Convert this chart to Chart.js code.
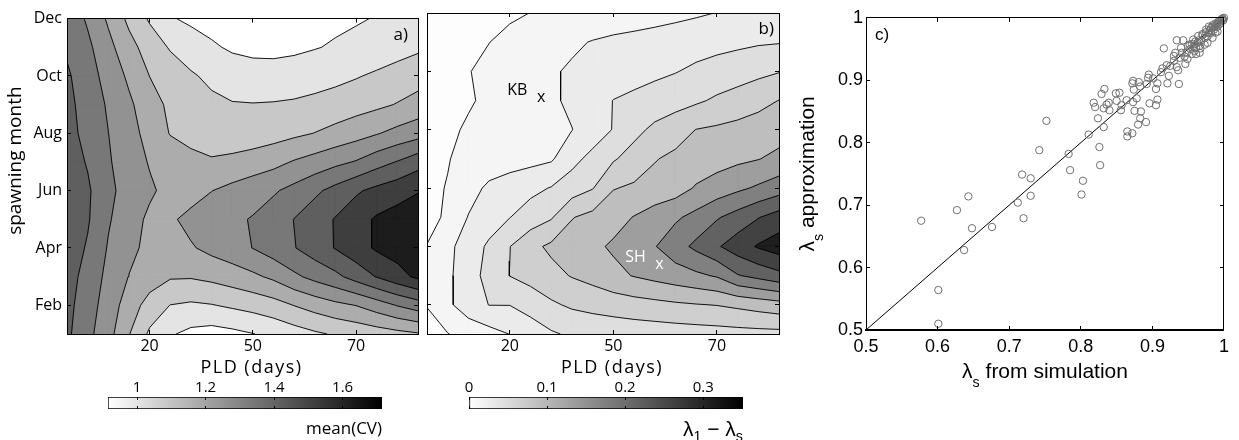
<!DOCTYPE html>
<html lang="en">
<head>
<meta charset="UTF-8" />
<title>Spawning month vs PLD</title>
<script src="https://cdn.jsdelivr.net/npm/chart.js"></script>
<style>
  body { margin: 0; background: #fff; }
  #figure { position: relative; width: 1239px; height: 440px; overflow: hidden; }
  #figure canvas { position: absolute; }
</style>
</head>
<body>
<div id="figure">
  <canvas id="cvChart" width="430" height="380" style="left:0px;top:0px"></canvas>
  <canvas id="gapChart" width="370" height="380" style="left:420px;top:0px"></canvas>
  <canvas id="cvBar" width="310" height="70" style="left:90px;top:370px"></canvas>
  <canvas id="gapBar" width="310" height="70" style="left:451px;top:370px"></canvas>
  <canvas id="lambdaChart" width="459" height="400" style="left:780px;top:0px"></canvas>
</div>
<script>
// axes of panels a) and b): 18 PLD steps (columns) by month (rows, Dec first)
const monthTicks = [2, 4, 6, 8, 10, 12];
const monthLabels = ['Feb', 'Apr', 'Jun', 'Aug', 'Oct', 'Dec'];
const pldTickCols = [4, 9, 14];
const pldTickLabels = ['20', '50', '70'];

// a) mean(CV), rows Dec -> Jan
const meanCV = [
  [1.47, 1.386, 1.285, 1.177, 1.088, 1.009, 0.98, 0.96, 0.945, 0.935, 0.935, 0.945, 0.96, 0.98, 0.993, 1.004, 1.015, 1.03],
  [1.485, 1.422, 1.329, 1.235, 1.155, 1.091, 1.053, 1.015, 0.985, 0.97, 0.97, 0.98, 0.995, 1.01, 1.02, 1.04, 1.06, 1.085],
  [1.515, 1.441, 1.365, 1.282, 1.199, 1.155, 1.111, 1.08, 1.06, 1.05, 1.045, 1.05, 1.06, 1.075, 1.093, 1.115, 1.14, 1.155],
  [1.53, 1.455, 1.389, 1.318, 1.242, 1.18, 1.15, 1.12, 1.105, 1.103, 1.106, 1.112, 1.125, 1.14, 1.16, 1.18, 1.205, 1.24],
  [1.54, 1.465, 1.401, 1.336, 1.267, 1.195, 1.16, 1.145, 1.14, 1.145, 1.16, 1.18, 1.202, 1.23, 1.26, 1.293, 1.33, 1.36],
  [1.55, 1.492, 1.41, 1.35, 1.293, 1.26, 1.235, 1.212, 1.225, 1.245, 1.27, 1.308, 1.34, 1.375, 1.407, 1.46, 1.505, 1.56],
  [1.56, 1.515, 1.422, 1.363, 1.315, 1.27, 1.255, 1.298, 1.328, 1.358, 1.388, 1.43, 1.48, 1.532, 1.586, 1.627, 1.66, 1.695],
  [1.56, 1.51, 1.41, 1.342, 1.282, 1.284, 1.33, 1.355, 1.38, 1.407, 1.45, 1.502, 1.555, 1.606, 1.66, 1.713, 1.74, 1.75],
  [1.555, 1.49, 1.392, 1.329, 1.27, 1.26, 1.29, 1.328, 1.36, 1.402, 1.45, 1.495, 1.55, 1.605, 1.66, 1.713, 1.74, 1.75],
  [1.54, 1.465, 1.373, 1.297, 1.25, 1.21, 1.208, 1.225, 1.25, 1.28, 1.32, 1.38, 1.43, 1.475, 1.54, 1.605, 1.665, 1.72],
  [1.53, 1.444, 1.355, 1.252, 1.16, 1.098, 1.085, 1.095, 1.115, 1.135, 1.16, 1.202, 1.24, 1.275, 1.302, 1.35, 1.405, 1.45],
  [1.52, 1.427, 1.336, 1.205, 1.083, 1.01, 0.975, 0.96, 0.975, 0.997, 1.025, 1.055, 1.085, 1.11, 1.13, 1.15, 1.17, 1.19]
];
const cvLevels = [1.0, 1.1, 1.2, 1.3, 1.4, 1.5, 1.6, 1.7];
const cvBarRange = [0.915, 1.715];
const cvBarTicks = [1, 1.2, 1.4, 1.6];
const cvBarLabels = ['1', '1.2', '1.4', '1.6'];

// b) lambda_1 - lambda_s, rows Dec -> Jan
const lambdaGap = [
  [0.0144, 0.0176, 0.0208, 0.024, 0.0282, 0.0323, 0.0352, 0.0384, 0.0416, 0.0448, 0.048, 0.0518, 0.056, 0.0602, 0.0646, 0.0704, 0.0768, 0.0832],
  [0.0176, 0.0208, 0.0256, 0.0317, 0.0384, 0.0454, 0.0522, 0.0592, 0.0656, 0.0704, 0.0736, 0.0768, 0.08, 0.0832, 0.0864, 0.0896, 0.0928, 0.0944],
  [0.0192, 0.024, 0.031, 0.0384, 0.0448, 0.0528, 0.0608, 0.0678, 0.0736, 0.079, 0.0848, 0.0896, 0.0947, 0.1018, 0.1082, 0.1136, 0.12, 0.1264],
  [0.0208, 0.0256, 0.0294, 0.0368, 0.0432, 0.0512, 0.0592, 0.0698, 0.0832, 0.0966, 0.1024, 0.1088, 0.1152, 0.1232, 0.1328, 0.1408, 0.1504, 0.1606],
  [0.0224, 0.0272, 0.0352, 0.0416, 0.048, 0.0528, 0.0576, 0.0634, 0.0784, 0.0976, 0.119, 0.135, 0.1472, 0.1606, 0.1648, 0.1696, 0.1744, 0.1792],
  [0.0256, 0.031, 0.0384, 0.0448, 0.0496, 0.0544, 0.0602, 0.0864, 0.1056, 0.1248, 0.1408, 0.1584, 0.1664, 0.1728, 0.1792, 0.1856, 0.191, 0.1997],
  [0.0272, 0.033, 0.0512, 0.0704, 0.08, 0.088, 0.0976, 0.112, 0.1264, 0.1584, 0.1648, 0.1696, 0.1776, 0.1952, 0.2064, 0.2176, 0.2288, 0.241],
  [0.0256, 0.0352, 0.0656, 0.08, 0.0954, 0.1104, 0.1248, 0.1584, 0.1696, 0.1808, 0.1933, 0.208, 0.2192, 0.2336, 0.2528, 0.2688, 0.2864, 0.3018],
  [0.0326, 0.0563, 0.0787, 0.1014, 0.1274, 0.1514, 0.1661, 0.1757, 0.1856, 0.1962, 0.2093, 0.2224, 0.2426, 0.2634, 0.2842, 0.3043, 0.3232, 0.336],
  [0.0432, 0.0576, 0.0826, 0.1062, 0.1286, 0.1392, 0.1504, 0.1619, 0.1712, 0.184, 0.1936, 0.2016, 0.2096, 0.2176, 0.2272, 0.2538, 0.2656, 0.2784],
  [0.033, 0.0576, 0.0816, 0.0966, 0.0966, 0.1088, 0.1232, 0.1328, 0.1376, 0.1424, 0.1472, 0.151, 0.1552, 0.1584, 0.161, 0.1664, 0.1728, 0.1792],
  [0.0224, 0.031, 0.0432, 0.0528, 0.0646, 0.0784, 0.0922, 0.1008, 0.1056, 0.1072, 0.1088, 0.1104, 0.112, 0.1136, 0.1152, 0.1168, 0.1178, 0.1184]
];
const gapLevels = [0.032, 0.064, 0.096, 0.128, 0.16, 0.192, 0.224, 0.256, 0.288, 0.32];
const gapBarRange = [0, 0.351];
const gapBarTicks = [0, 0.1, 0.2, 0.3];
const gapBarLabels = ['0', '0.1', '0.2', '0.3'];

// sites marked in b)
const siteNames = ['KB', 'SH'];
const sitePldCol = [5.52, 11.23];
const siteMonth = [9.09, 3.37];

// c) lambda_s: simulation vs approximation
const simLambda = [0.577, 0.627, 0.648, 0.676, 0.637, 0.601, 0.601, 0.712, 0.72, 0.643, 0.718, 0.73, 0.73, 0.742, 0.752, 0.783, 0.785, 0.803, 0.801, 0.811,
  0.826, 0.827, 0.818, 0.82, 0.824, 0.829, 0.833, 0.832, 0.832, 0.836, 0.84, 0.839, 0.849, 0.854, 0.85, 0.857, 0.856, 0.864, 0.865, 0.865,
  0.872, 0.872, 0.873, 0.874, 0.873, 0.875, 0.878, 0.881, 0.883, 0.88, 0.883, 0.884, 0.891, 0.892, 0.894, 0.895, 0.896, 0.901, 0.905, 0.907,
  0.905, 0.907, 0.912, 0.914, 0.916, 0.921, 0.923, 0.92, 0.925, 0.93, 0.932, 0.934, 0.937, 0.936, 0.934, 0.938, 0.94, 0.943, 0.946, 0.948,
  0.949, 0.95, 0.952, 0.955, 0.957, 0.959, 0.961, 0.964, 0.966, 0.968, 0.97, 0.973, 0.975, 0.977, 0.979, 0.982, 0.984, 0.986, 0.988, 0.991,
  0.993, 0.995, 0.997, 0.999, 0.984, 0.973, 0.961, 0.966, 0.977, 0.988, 0.991, 0.967, 0.941, 0.93, 0.96, 0.97, 0.98, 0.985, 0.99, 0.992,
  0.995, 0.997, 0.998, 1.0, 0.975, 0.965, 0.955, 0.987, 0.993, 0.979, 0.982, 0.945, 0.953, 0.958, 0.963];
const approxLambda = [0.675, 0.692, 0.663, 0.665, 0.628, 0.564, 0.51, 0.704, 0.679, 0.714, 0.749, 0.743, 0.715, 0.788, 0.835, 0.782, 0.756, 0.739, 0.717, 0.813,
  0.793, 0.764, 0.864, 0.857, 0.839, 0.878, 0.886, 0.855, 0.825, 0.861, 0.852, 0.864, 0.879, 0.88, 0.867, 0.86, 0.852, 0.868, 0.818, 0.81,
  0.815, 0.895, 0.899, 0.885, 0.865, 0.851, 0.871, 0.897, 0.89, 0.829, 0.839, 0.85, 0.833, 0.894, 0.904, 0.909, 0.863, 0.903, 0.86, 0.869,
  0.886, 0.895, 0.913, 0.919, 0.951, 0.895, 0.907, 0.924, 0.923, 0.931, 0.944, 0.964, 0.894, 0.916, 0.921, 0.936, 0.952, 0.964, 0.926, 0.944,
  0.934, 0.955, 0.957, 0.942, 0.965, 0.947, 0.952, 0.971, 0.955, 0.963, 0.974, 0.968, 0.981, 0.97, 0.986, 0.976, 0.988, 0.981, 0.991, 0.986,
  0.995, 0.991, 0.998, 0.996, 0.968, 0.957, 0.942, 0.944, 0.96, 0.976, 0.978, 0.951, 0.944, 0.939, 0.962, 0.972, 0.98, 0.986, 0.99, 0.993,
  0.996, 0.997, 0.999, 1.0, 0.977, 0.964, 0.958, 0.985, 0.99, 0.975, 0.984, 0.938, 0.95, 0.955, 0.96];
const identityLine = [0.5, 1];
const lambdaTicks = [0.5, 0.6, 0.7, 0.8, 0.9, 1];
const lambdaTickLabels = ['0.5', '0.6', '0.7', '0.8', '0.9', '1'];

// band greys (lowest band first)
const cvShades = [255, 228, 200, 172, 146, 120, 95, 62, 28];
const gapShades = [253, 245, 235, 222, 207, 190, 158, 128, 98, 66, 30];

const OPEN = "'Open Sans', sans-serif";
const SANS = "'Liberation Sans', Arial, sans-serif";
Chart.defaults.font.family = OPEN;
Chart.defaults.color = '#000';

const gray = g => `rgb(${g},${g},${g})`;
const txt = (t, sub = false) => ({ t, sub });

// text with optional subscripts, drawn at a baseline point
function richText(ctx, parts, x, y, o) {
  ctx.save();
  ctx.translate(x, y);
  if (o.rotate) ctx.rotate(o.rotate);
  ctx.fillStyle = o.color || '#000';
  ctx.textBaseline = 'alphabetic';
  if (o.spacing) ctx.letterSpacing = o.spacing;
  const sizes = parts.map(p => (p.sub ? o.size * 0.68 : o.size));
  const widths = parts.map((p, i) => {
    ctx.font = `${sizes[i]}px ${o.family}`;
    return ctx.measureText(p.t).width;
  });
  const total = widths.reduce((a, b) => a + b, 0);
  let cx = o.align === 'right' ? -total : o.align === 'center' ? -total / 2 : 0;
  parts.forEach((p, i) => {
    ctx.font = `${sizes[i]}px ${o.family}`;
    ctx.fillText(p.t, cx, p.sub ? o.size * (o.drop || 0.3) : 0);
    cx += widths[i];
  });
  ctx.restore();
}

// filled contour pieces per cell (linear interpolation on cell edges)
const GAP = { x: null, y: null };
function contourLayers(grid, levels) {
  const rows = grid.length, cols = grid[0].length;
  const monthOf = r => rows - r;
  const fills = [], lines = [];
  const rect = (pts, c0, c1, yb, yt) => pts.push({ x: c0, y: yb }, { x: c1, y: yb }, { x: c1, y: yt }, { x: c0, y: yt }, { x: c0, y: yb }, GAP);
  levels.forEach(level => {
    const pts = [];
    for (let r = 0; r < rows - 1; r++) {
      let run = -1;
      for (let c = 0; c < cols - 1; c++) {
        const k = [
          [c, monthOf(r + 1), grid[r + 1][c]],
          [c + 1, monthOf(r + 1), grid[r + 1][c + 1]],
          [c + 1, monthOf(r), grid[r][c + 1]],
          [c, monthOf(r), grid[r][c]]
        ];
        const inside = k.map(p => p[2] >= level);
        if (inside.every(Boolean)) { if (run < 0) run = c; continue; }
        if (run >= 0) { rect(pts, run, c, monthOf(r + 1), monthOf(r)); run = -1; }
        if (!inside.some(Boolean)) continue;
        const poly = [], cross = [];
        for (let i = 0; i < 4; i++) {
          const a = k[i], b = k[(i + 1) % 4];
          if (inside[i]) poly.push({ x: a[0], y: a[1] });
          if (inside[i] !== inside[(i + 1) % 4]) {
            const t = (level - a[2]) / (b[2] - a[2]);
            const p = { x: a[0] + t * (b[0] - a[0]), y: a[1] + t * (b[1] - a[1]) };
            poly.push(p);
            cross.push({ p, exit: inside[i] });
          }
        }
        pts.push(...poly, poly[0], GAP);
        cross.forEach((q, i) => {
          if (q.exit) lines.push(q.p, cross[(i + 1) % cross.length].p, GAP);
        });
      }
      if (run >= 0) rect(pts, run, cols - 1, monthOf(r + 1), monthOf(r));
    }
    fills.push(pts);
  });
  return { fills, lines };
}

function contourDatasets(grid, levels, shades) {
  const { fills, lines } = contourLayers(grid, [-Infinity, ...levels]);
  const sets = fills.map((pts, k) => ({
    data: pts, showLine: true, fill: 'shape', tension: 0,
    backgroundColor: gray(shades[k]), borderColor: gray(shades[k]), borderWidth: 1,
    borderJoinStyle: 'round', pointRadius: 0, order: 100 - k
  }));
  sets.push({ data: lines, showLine: true, fill: false, tension: 0, borderColor: '#000',
    borderWidth: 0.9, pointRadius: 0, order: 0 });
  return sets;
}

function frameAxis(pos, range, ticks, labels, fit, showLabels, opt = {}) {
  const horizontal = pos === 'top' || pos === 'bottom';
  return {
    type: 'linear', position: pos, min: range[0], max: range[1],
    afterBuildTicks: s => { s.ticks = ticks.map(v => ({ value: v })); },
    afterFit: s => { if (horizontal) s.height = fit; else s.width = fit; },
    ticks: {
      display: showLabels, autoSkip: false, maxRotation: 0, minRotation: 0, padding: opt.pad || 0,
      color: '#000', font: { family: opt.family || OPEN, size: opt.size || 16 },
      callback: (v, i) => labels[i]
    },
    grid: { drawOnChartArea: false, drawTicks: true, tickLength: -4, color: '#000', lineWidth: 1, z: 1 },
    border: { display: true, color: '#000', width: opt.border || 1, z: 1 }
  };
}

function contourChart(id, grid, levels, shades, cfg) {
  const colRange = [0, grid[0].length - 1];
  const monthRange = [1, grid.length];
  return new Chart(document.getElementById(id), {
    type: 'scatter',
    data: { datasets: contourDatasets(grid, levels, shades) },
    options: {
      responsive: false, animation: false, events: [], devicePixelRatio: 1,
      layout: { padding: cfg.padding, autoPadding: false },
      plugins: { legend: { display: false }, tooltip: { enabled: false } },
      scales: {
        x: frameAxis('bottom', colRange, pldTickCols, pldTickLabels, 46, true, { pad: 7 }),
        xTop: frameAxis('top', colRange, pldTickCols, pldTickLabels, 0, false),
        y: frameAxis('left', monthRange, monthTicks, monthLabels, cfg.yWidth, cfg.yLabels, { pad: 9 }),
        yRight: frameAxis('right', monthRange, monthTicks, monthLabels, 0, false)
      }
    },
    plugins: [cfg.text]
  });
}

function pldTitle(ctx, a) {
  richText(ctx, [txt('PLD (days)')], (a.left + a.right) / 2 + 9, a.bottom + 39,
    { size: 18, family: OPEN, align: 'center', spacing: '1.5px' });
}

contourChart('cvChart', meanCV, cvLevels, cvShades, {
  padding: { left: 0, top: 13, right: 12, bottom: 0 }, yWidth: 67, yLabels: true,
  text: {
    id: 'cvText',
    afterDraw(chart) {
      const { ctx, chartArea: a } = chart;
      richText(ctx, [txt('spawning month')], 21, a.top + 142, { size: 19, family: OPEN, align: 'center', rotate: -Math.PI / 2 });
      pldTitle(ctx, a);
      richText(ctx, [txt('a)')], a.right - 10, a.top + 21, { size: 17, family: OPEN, align: 'right' });
    }
  }
});

contourChart('gapChart', lambdaGap, gapLevels, gapShades, {
  padding: { left: 7, top: 13, right: 11, bottom: 0 }, yWidth: 0, yLabels: false,
  text: {
    id: 'gapText',
    afterDraw(chart) {
      const { ctx, chartArea: a, scales } = chart;
      pldTitle(ctx, a);
      richText(ctx, [txt('b)')], a.right - 5, a.top + 21, { size: 17, family: OPEN, align: 'right' });
      siteNames.forEach((name, i) => {
        const px = scales.x.getPixelForValue(sitePldCol[i]);
        const py = scales.y.getPixelForValue(siteMonth[i]);
        const color = i === 0 ? '#000' : '#fff';
        richText(ctx, [txt('x')], px, py + 4.5, { size: 16, family: OPEN, align: 'center', color });
        richText(ctx, [txt(name)], px - 24, py - 3, { size: 16, family: OPEN, align: 'center', color });
      });
    }
  }
});

function colorbar(id, range, ticks, labels, caption) {
  const axis = (pos, show) => ({
    type: 'linear', position: pos, min: range[0], max: range[1],
    afterBuildTicks: s => { s.ticks = ticks.map(v => ({ value: v })); },
    afterFit: s => { s.height = show ? 27 : 0; },
    ticks: { display: show, autoSkip: false, maxRotation: 0, padding: 3, color: '#000',
      font: { family: OPEN, size: 15 }, callback: (v, i) => labels[i] },
    grid: { drawOnChartArea: false, tickLength: -3, color: '#000', z: 1 },
    border: { display: false }
  });
  return new Chart(document.getElementById(id), {
    type: 'bar',
    data: {
      labels: [''],
      datasets: [{
        data: [range],
        backgroundColor: c => {
          const a = c.chart.chartArea;
          if (!a) return '#888';
          const g = c.chart.ctx.createLinearGradient(a.left, 0, a.right, 0);
          g.addColorStop(0, '#ffffff');
          g.addColorStop(1, '#000000');
          return g;
        },
        borderColor: '#000', borderWidth: 1, borderSkipped: false,
        barPercentage: 1, categoryPercentage: 1
      }]
    },
    options: {
      indexAxis: 'y', responsive: false, animation: false, events: [], devicePixelRatio: 1,
      layout: { padding: { left: 18, right: 18, top: 0, bottom: 31 }, autoPadding: false },
      plugins: { legend: { display: false }, tooltip: { enabled: false } },
      scales: { x: axis('top', true), xBottom: axis('bottom', false), y: { display: false } }
    },
    plugins: [caption]
  });
}

colorbar('cvBar', cvBarRange, cvBarTicks, cvBarLabels, {
  id: 'cvCaption',
  afterDraw(chart) {
    const a = chart.chartArea;
    richText(chart.ctx, [txt('mean(CV)')], a.right, a.bottom + 25, { size: 17, family: OPEN, align: 'right' });
  }
});

colorbar('gapBar', gapBarRange, gapBarTicks, gapBarLabels, {
  id: 'gapCaption',
  afterDraw(chart) {
    const a = chart.chartArea;
    richText(chart.ctx, [txt('λ'), txt('1', true), txt(' − λ'), txt('s', true)], a.right, a.bottom + 27,
      { size: 21, family: SANS, align: 'right', drop: 0.25 });
  }
});

new Chart(document.getElementById('lambdaChart'), {
  type: 'scatter',
  data: {
    datasets: [
      {
        data: simLambda.map((x, i) => ({ x, y: approxLambda[i] })),
        pointStyle: 'circle', pointRadius: 3.7, pointBorderWidth: 1,
        pointBorderColor: '#6f6f6f', pointBackgroundColor: 'rgba(0,0,0,0)', clip: false
      },
      {
        data: identityLine.map(v => ({ x: v, y: v })),
        showLine: true, borderColor: '#000', borderWidth: 1, pointRadius: 0
      }
    ]
  },
  options: {
    responsive: false, animation: false, events: [], devicePixelRatio: 1,
    layout: { padding: { left: 0, top: 13, right: 2, bottom: 0 }, autoPadding: false },
    plugins: { legend: { display: false }, tooltip: { enabled: false } },
    scales: {
      x: frameAxis('bottom', [0.5, 1], lambdaTicks, lambdaTickLabels, 70, true, { pad: 10, family: SANS, size: 18, border: 2 }),
      xTop: frameAxis('top', [0.5, 1], lambdaTicks, lambdaTickLabels, 0, false),
      y: frameAxis('left', [0.5, 1], lambdaTicks, lambdaTickLabels, 86, true, { pad: 7, family: SANS, size: 18 }),
      yRight: frameAxis('right', [0.5, 1], lambdaTicks, lambdaTickLabels, 0, false)
    }
  },
  plugins: [{
    id: 'lambdaText',
    afterDraw(chart) {
      const { ctx, chartArea: a } = chart;
      richText(ctx, [txt('λ'), txt('s', true), txt(' from simulation')], (a.left + a.right) / 2, a.bottom + 48,
        { size: 21, family: SANS, align: 'center', drop: 0.42 });
      richText(ctx, [txt('λ'), txt('s', true), txt(' approximation')], 34, (a.top + a.bottom) / 2,
        { size: 21, family: SANS, align: 'center', rotate: -Math.PI / 2, drop: 0.42 });
      richText(ctx, [txt('c)')], a.left + 9, a.top + 22, { size: 17, family: SANS });
    }
  }]
});
</script>
</body>
</html>
